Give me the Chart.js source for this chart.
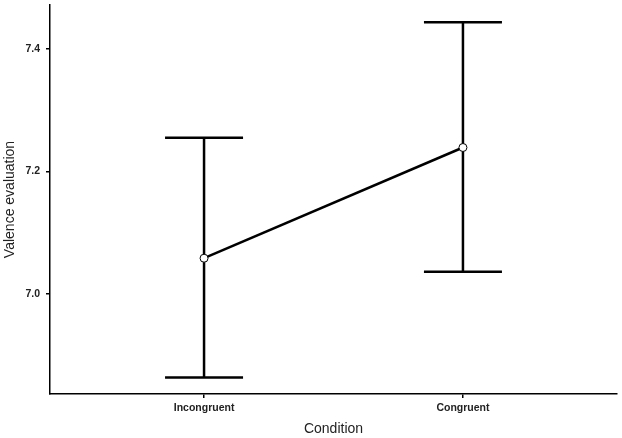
<!DOCTYPE html>
<html>
<head>
<meta charset="utf-8">
<script src="https://cdn.jsdelivr.net/npm/chart.js@4"></script>
<style>
  html, body { margin: 0; padding: 0; background: #fff; }
  #wrap { width: 622px; height: 438px; }
</style>
</head>
<body>
<div id="wrap"><canvas id="plot" width="622" height="438"></canvas></div>
<script>
// data
var conditions = ['Incongruent', 'Congruent'];
var means = [7.058, 7.239];
var upper = [7.255, 7.444];
var lower = [6.863, 7.036];
var yTicks = [7.0, 7.2, 7.4];

// error bars drawn under the line and points
var errorBars = {
    id: 'errorBars',
    beforeDatasetsDraw: function(chart) {
        var ctx = chart.ctx;
        var xs = chart.scales.x, ys = chart.scales.y;
        ctx.save();
        ctx.strokeStyle = '#000';
        ctx.lineWidth = 2.5;
        for (var i = 0; i < conditions.length; i++) {
            var px = xs.getPixelForValue(i + 1);
            var top = ys.getPixelForValue(upper[i]);
            var bot = ys.getPixelForValue(lower[i]);
            ctx.beginPath();
            ctx.moveTo(px, top); ctx.lineTo(px, bot);
            ctx.moveTo(px - 39, top); ctx.lineTo(px + 39, top);
            ctx.moveTo(px - 39, bot); ctx.lineTo(px + 39, bot);
            ctx.stroke();
        }
        ctx.restore();
    }
};

var tickFont = { family: 'Liberation Sans, Arial', size: 10.5, weight: 'bold' };

var ctx = document.getElementById('plot').getContext('2d');
var chart = new Chart(ctx, {
    type: 'line',
    data: {
        datasets: [{
            data: conditions.map(function(c, i) { return { x: i + 1, y: means[i] }; }),
            borderColor: '#000',
            borderWidth: 2.5,
            pointRadius: 4,
            pointBorderWidth: 1,
            pointBackgroundColor: '#fff',
            pointBorderColor: '#000',
            fill: false,
        }]
    },
    options: {
        responsive: false,
        animation: false,
        layout: { padding: { top: 3, right: 5, left: 0, bottom: 0 } },
        plugins: { legend: { display: false }, tooltip: { enabled: false } },
        scales: {
            x: {
                type: 'linear',
                min: 0.405,
                max: 2.595,
                afterBuildTicks: function(scale) {
                    scale.ticks = conditions.map(function(c, i) { return { value: i + 1 }; });
                },
                afterFit: function(scale) {
                    scale.height = 44;
                    scale.paddingLeft = 0;
                    scale.paddingRight = 0;
                },
                ticks: {
                    padding: 4,
                    color: '#222',
                    font: tickFont,
                    callback: function(v) { return conditions[v - 1]; }
                },
                grid: { drawOnChartArea: false, drawTicks: true, tickLength: 4, color: '#000', lineWidth: 1.5 },
                border: { color: '#000', width: 1.5 },
                title: {
                    display: true,
                    text: 'Condition',
                    color: '#222',
                    padding: { top: 0, bottom: 0 },
                    font: { family: 'Liberation Sans, Arial', size: 14 }
                }
            },
            y: {
                min: 6.836,
                max: 7.472,
                afterBuildTicks: function(scale) {
                    scale.ticks = yTicks.map(function(v) { return { value: v }; });
                },
                afterFit: function(scale) {
                    scale.width = 50;
                    scale.paddingTop = 0;
                    scale.paddingBottom = 0;
                },
                ticks: {
                    padding: 6,
                    color: '#222',
                    font: tickFont,
                    callback: function(v) { return v.toFixed(1); }
                },
                grid: { drawOnChartArea: false, drawTicks: true, tickLength: 4, color: '#000', lineWidth: 1.5 },
                border: { color: '#000', width: 1.5 },
                title: {
                    display: true,
                    text: 'Valence evaluation',
                    color: '#222',
                    padding: { top: 2, bottom: 0 },
                    font: { family: 'Liberation Sans, Arial', size: 14 }
                }
            }
        }
    },
    plugins: [errorBars]
});
</script>
</body>
</html>
